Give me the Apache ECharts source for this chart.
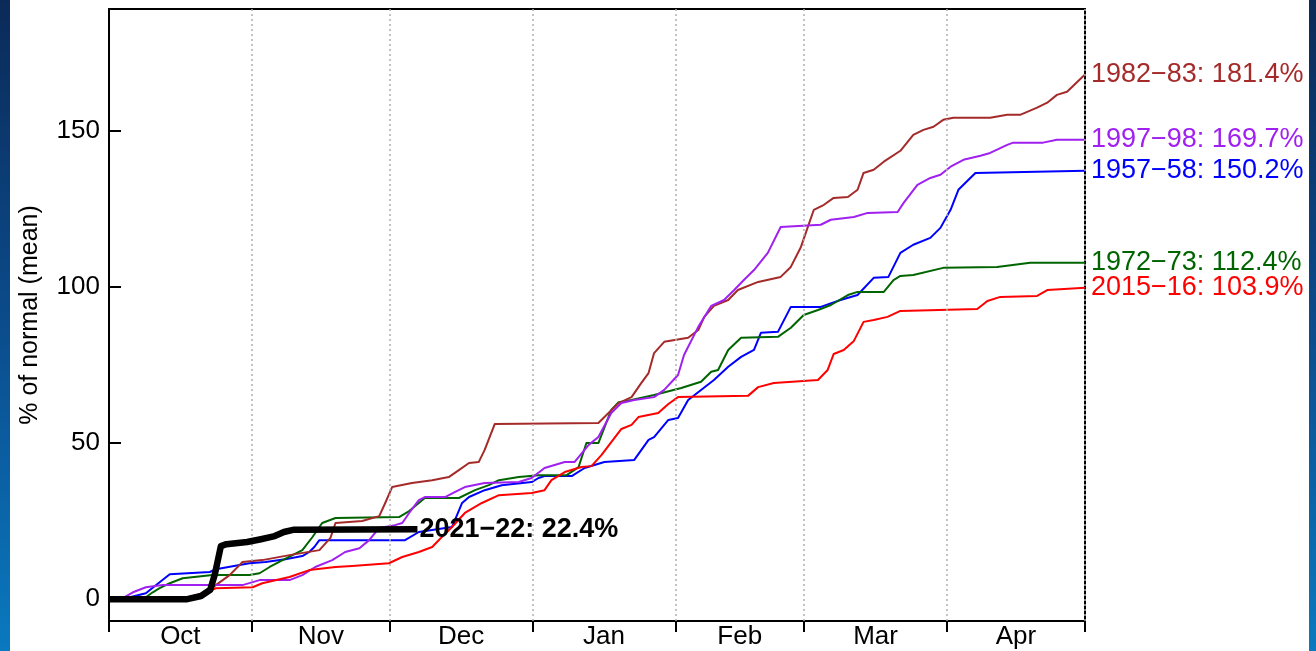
<!DOCTYPE html>
<html>
<head>
<meta charset="utf-8">
<script src="https://cdn.jsdelivr.net/npm/echarts@6/dist/echarts.min.js"></script>
<style>
  html, body { margin:0; padding:0; width:1316px; height:651px; overflow:hidden;
    background: linear-gradient(to bottom, #0b2a58 0%, #0b4c8c 50%, #0a79bf 100%); }
  #chart { position:absolute; left:10px; top:0; width:1299px; height:651px; background:#ffffff; }
</style>
</head>
<body>
<div id="chart"></div>
<script>
// ---- data (x = day of season starting Oct 1, y = % of normal) ----
const monthNames = ['Oct','Nov','Dec','Jan','Feb','Mar','Apr'];
const monthStarts = [0, 31, 61, 92, 123, 151, 182, 212];
const yTicks = [0, 50, 100, 150];

const seasonNames = ['1957\u221258', '1972\u221273', '1982\u221283', '1997\u221298', '2015\u221216', '2021\u221222'];
const seasonTotals = ['150.2%', '112.4%', '181.4%', '169.7%', '103.9%', '22.4%'];
const seasonColors = ['#0000ff', '#006400', '#a52a2a', '#a020f0', '#ff0000', '#000000'];

const s1957 = [[0,0],[4.5,0.6],[8,1.9],[11,5.4],[13.2,8],[21.9,8.7],[23.2,9.6],[30.5,11.5],[34,11.9],[38.3,12.8],[42,13.8],[43.5,15.1],[44.6,16.7],[45.7,18.9],[64.3,18.9],[67.3,21.5],[74.5,23.1],[76.7,30.8],[78.2,32.7],[81.6,34.9],[85.3,36.5],[91.8,37.5],[93.3,38.8],[94.6,39.4],[100.5,39.4],[103.3,42],[107.6,43.9],[114.1,44.6],[117.2,51],[118.4,51.9],[121.5,57.4],[123.6,58],[125.8,63.8],[128.6,67],[131.4,70.2],[134.5,74.4],[137.3,77.6],[140.1,79.8],[141.6,85.3],[145.3,85.6],[148.1,93.6],[154.6,93.6],[158.9,95.8],[162.6,97.4],[166.1,102.9],[169.3,103.2],[171.9,110.9],[174.7,113.5],[178.4,115.7],[180.6,118.9],[182.8,124.7],[184.5,131.1],[186.7,134.3],[188.2,136.5],[212,137.2]];

const s1972 = [[0,0],[5.2,0.3],[8,0.6],[9.5,2.2],[11,3.5],[13.2,5.1],[16,6.7],[22.5,7.7],[30.5,7.7],[32.7,8.3],[34.9,10.3],[37.7,12.5],[42,15.7],[44.2,19.9],[46.3,24.4],[49.2,26],[63,26.3],[65.2,28.2],[67.3,30.8],[68.6,32.4],[76,32.4],[79.5,34.9],[82.5,36.5],[84.7,38.1],[89,39.1],[93.3,39.7],[99.4,39.7],[102,42.3],[103.7,50],[106.3,50],[109.1,60.6],[110.7,63.1],[113.5,63.8],[118.4,65.4],[124.3,67.6],[128.6,69.6],[130.8,72.8],[132.3,73.4],[134.5,79.8],[137.3,83.7],[145.3,84],[148.1,86.9],[150.9,91],[154,92.6],[156.8,94.2],[160.5,97.4],[162.6,98.4],[168.3,98.4],[170.4,102.2],[171.9,103.5],[174.7,103.8],[181.2,106.1],[192.9,106.4],[200.1,107.7],[212,107.7]];

const s1982 = [[0,0],[16,0.3],[20.4,1.6],[23.2,4.5],[26.2,7.7],[29,11.9],[33.3,12.5],[39.2,14.1],[45.7,15.7],[48.1,19.6],[49.2,24.4],[55,25],[58.7,26.6],[60,30.8],[61.5,35.9],[65.8,37.2],[70.2,38.1],[73.8,39.1],[76,41.3],[78.2,43.6],[80.3,43.9],[81.6,47.8],[83.8,56.1],[106.3,56.4],[108.5,59.6],[110.7,62.8],[113.5,64.7],[115.6,69.2],[117.2,72.4],[118.4,78.8],[120.6,82.4],[125.8,83.7],[128,86.2],[129.3,90.4],[131.4,93.9],[134.5,95.8],[136.6,99],[141,101.6],[145.9,103.2],[148.1,106.4],[150.3,112.8],[151.8,119.2],[153.1,124.7],[155.3,126.3],[157.4,128.5],[160.5,128.8],[162.6,131.1],[163.9,136.5],[166.1,137.5],[168.3,140.1],[171.9,143.6],[174.7,148.7],[176.9,150.3],[179.1,151.3],[181.2,153.5],[183.4,154.2],[191.4,154.2],[195.1,155.1],[197.9,155.1],[201.6,157.4],[203.8,159],[205.9,161.5],[208.1,162.5],[212,168]];

const s1997 = [[0,0],[3,0.3],[5.2,2.2],[8,3.8],[11.7,4.5],[29,4.5],[32.7,6.1],[39.2,6.1],[42,7.7],[44.8,10.3],[48.5,12.5],[51.3,15.1],[54.4,16.3],[56.5,18.9],[58.7,22.8],[62.1,23.7],[63.7,24.4],[65.2,27.6],[67.3,31.7],[68.6,32.7],[73,32.7],[75.1,34.3],[77.3,35.9],[81.6,37.2],[89,37.5],[91.8,38.8],[94.6,42],[99,43.9],[101.1,43.9],[104.2,49.4],[106.3,51.9],[109.1,59.6],[111.3,62.8],[114.1,63.8],[118.4,64.7],[120.6,67],[123.6,71.8],[124.9,78.2],[128,87.2],[130.8,93.9],[133.6,95.8],[135.8,99],[137.9,102.2],[140.1,105.4],[143.1,110.9],[145.9,119.2],[154.6,119.9],[156.8,121.5],[161.8,122.4],[164.8,123.7],[171.3,124],[172.6,126.9],[175.6,132.7],[178.4,134.9],[180.6,135.9],[182.8,138.5],[185.6,140.7],[189.3,142],[191.4,142.9],[195.1,145.5],[196.4,146.2],[202.9,146.2],[205.9,147.1],[212,147.1]];

const s2015 = [[0,0],[13.9,0.3],[17.5,0.6],[20.4,1.9],[23.2,3.5],[31.2,3.8],[33.3,5.1],[39.2,7.1],[43.5,9.3],[49.2,10.3],[52.8,10.6],[60.8,11.5],[63.7,13.5],[67.3,15.1],[70.2,16.7],[72.3,19.9],[74.5,23.1],[77.3,27.6],[81,30.8],[84.7,33.3],[91.8,34],[94.6,34.9],[96.1,38.1],[99,40.7],[102.6,42.3],[104.8,42.6],[107,46.2],[109.1,50.3],[111.3,54.5],[113.5,55.8],[115,58.3],[119.3,59.6],[121.5,62.5],[123.6,64.7],[138.8,65.1],[141,67.9],[144.4,69.2],[154,70.2],[156.1,73.4],[157.4,78.5],[159.6,79.8],[161.8,82.7],[163.9,88.8],[166.1,89.4],[169.1,90.4],[171.9,92.3],[188.6,92.9],[190.8,95.5],[193.6,96.8],[201.6,97.1],[203.8,99],[212,99.7]];

const s2021 = [[0,0],[17,0],[20,1],[22,3],[23,8],[24.3,17],[25.5,17.6],[30,18.3],[33,19.2],[36,20.2],[38,21.5],[40,22.2],[67,22.4]];

const seasonData = [s1957, s1972, s1982, s1997, s2015, s2021];
// ------------------------------------------------------------------

const FONT = "'Liberation Sans', Arial, Helvetica, sans-serif";
const labelMids = monthStarts.slice(0, -1).map((s, i) => (s + monthStarts[i + 1]) / 2);

const chart = echarts.init(document.getElementById('chart'), null, { renderer: 'canvas' });

const series = seasonData.map((d, i) => {
  const isCur = i === seasonData.length - 1;
  return {
    type: 'line',
    name: seasonNames[i],
    data: d,
    showSymbol: false,
    symbol: 'none',
    z: isCur ? 10 : 3,
    lineStyle: { color: seasonColors[i], width: isCur ? 6.5 : 2, cap: 'butt', join: 'round' },
    itemStyle: { color: seasonColors[i] },
    endLabel: {
      show: true,
      formatter: seasonNames[i] + ': ' + seasonTotals[i],
      color: seasonColors[i],
      fontFamily: FONT,
      fontSize: 27,
      fontWeight: isCur ? 'bold' : 'normal',
      distance: isCur ? 2 : 6
    }
  };
});

// dotted month separators
series.push({
  type: 'line',
  data: [],
  silent: true,
  markLine: {
    silent: true,
    symbol: ['none', 'none'],
    label: { show: false },
    lineStyle: { color: '#b0b0b0', type: [2, 3], width: 1.5 },
    animation: false,
    data: monthStarts.slice(1).map(v => ({ xAxis: v }))
  }
});

chart.setOption({
  animation: false,
  backgroundColor: '#ffffff',
  grid: {
    left: 96, right: 224, top: 9, bottom: 30,
    show: true, borderColor: '#000', borderWidth: 2, backgroundColor: 'transparent'
  },
  xAxis: {
    type: 'value', min: 0, max: 212,
    axisLine: { show: true, onZero: false, lineStyle: { color: '#000', width: 2 } },
    axisTick: { show: true, inside: false, length: 11, customValues: monthStarts, lineStyle: { color: '#000', width: 2 } },
    axisLabel: {
      show: true, customValues: labelMids, margin: 3,
      formatter: v => monthNames[labelMids.indexOf(v)] || '',
      color: '#000', fontFamily: FONT, fontSize: 26
    },
    splitLine: { show: false }
  },
  yAxis: {
    type: 'value', min: -7, max: 189,
    name: '% of normal (mean)', nameLocation: 'middle', nameRotate: 90, nameGap: 66,
    nameTextStyle: { color: '#000', fontFamily: FONT, fontSize: 25 },
    axisLine: { show: true, onZero: false, lineStyle: { color: '#000', width: 2 } },
    axisTick: { show: true, inside: true, length: 12, customValues: yTicks, lineStyle: { color: '#000', width: 2 } },
    axisLabel: { show: true, customValues: yTicks, margin: 9, color: '#000', fontFamily: FONT, fontSize: 26 },
    splitLine: { show: false }
  },
  series: series
});
</script>
</body>
</html>
